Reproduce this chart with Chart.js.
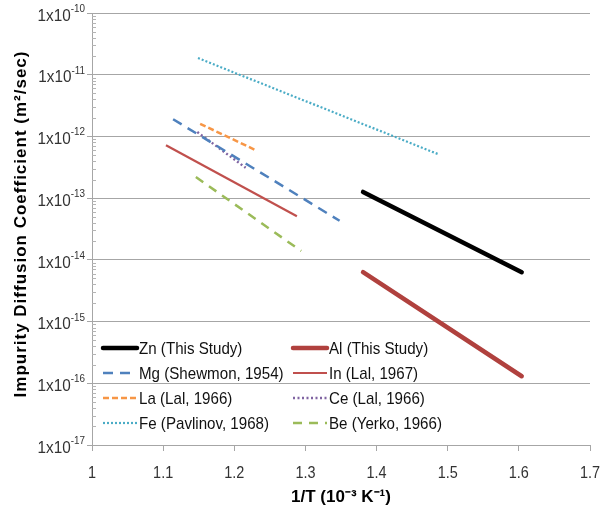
<!DOCTYPE html>
<html>
<head>
<meta charset="utf-8">
<script src="https://cdn.jsdelivr.net/npm/chart.js@4.4.1/dist/chart.umd.min.js"></script>
<style>
  html, body { margin: 0; padding: 0; background: #fff; }
  #wrap { width: 600px; height: 512px; }
</style>
</head>
<body>
<div id="wrap"><canvas id="myChart"></canvas></div>
<script>
const SANS = "'Liberation Sans', Arial, sans-serif";

// axis ticks
const xTicks = [1, 1.1, 1.2, 1.3, 1.4, 1.5, 1.6, 1.7];
const decadeExps = [-17, -16, -15, -14, -13, -12, -11, -10];
const minorSteps = [1, 2, 3, 4, 5, 6, 7, 8, 9];

// series: 1/T (10^-3 K^-1) and D (m^2/s), end points
const znX = [1.381, 1.604];
const znY = [1.26e-13, 6.3e-15];
const alX = [1.381, 1.604];
const alY = [6.3e-15, 1.3e-16];
const mgX = [1.114, 1.348];
const mgY = [1.9e-12, 4.3e-14];
const inX = [1.104, 1.288];
const inY = [7.2e-13, 5.1e-14];
const laX = [1.152, 1.230];
const laY = [1.6e-12, 6.0e-13];
const ceX = [1.148, 1.216];
const ceY = [1.18e-12, 3.1e-13];
const feX = [1.149, 1.486];
const feY = [1.86e-11, 5.2e-13];
const beX = [1.146, 1.294];
const beY = [2.2e-13, 1.39e-14];

function pts(xs, ys) {
    return xs.map((x, i) => ({ x: x, y: ys[i] }));
}

function series(label, xs, ys, color, width, dash, cap) {
    return {
        label: label,
        data: pts(xs, ys),
        showLine: true,
        borderColor: color,
        backgroundColor: color,
        borderWidth: width,
        borderDash: dash,
        borderCapStyle: cap || 'butt',
        pointRadius: 0,
        fill: false
    };
}

// no Calibri here, so squeeze a normal sans a bit
function narrowText(ctx, text, x, y, align, size, sx) {
    ctx.save();
    ctx.translate(x, y);
    ctx.scale(sx, 1);
    ctx.font = size + 'px ' + SANS;
    ctx.textAlign = align;
    ctx.textBaseline = 'middle';
    ctx.fillText(text, 0, 0);
    ctx.restore();
}

// legend drawn inside the plot, 2 columns like the original
const legendPlugin = {
    id: 'insideLegend',
    afterDatasetsDraw(chart) {
        const ctx = chart.ctx;
        const colX = [103, 293];
        ctx.save();
        chart.data.datasets.forEach((ds, i) => {
            const x0 = colX[i % 2];
            const y = 348 + Math.floor(i / 2) * 25;
            ctx.beginPath();
            ctx.setLineDash(ds.borderDash || []);
            ctx.lineCap = ds.borderCapStyle;
            ctx.lineWidth = ds.borderWidth;
            ctx.strokeStyle = ds.borderColor;
            ctx.moveTo(x0, y);
            ctx.lineTo(x0 + 34, y);
            ctx.stroke();
            ctx.setLineDash([]);
            ctx.fillStyle = '#111';
            narrowText(ctx, ds.label, x0 + 36, y + 1, 'left', 17, 0.89);
        });
        ctx.restore();
    }
};

// tick labels, minor ticks and y title drawn by hand
const labelPlugin = {
    id: 'axisLabels',
    afterDraw(chart) {
        const ctx = chart.ctx;
        const ys = chart.scales.y;
        const xs = chart.scales.x;
        const right = ys.right - 7;
        ctx.save();

        // minor ticks sit inside the plot
        ctx.strokeStyle = '#b4b4b4';
        ctx.lineWidth = 1;
        ctx.beginPath();
        ys.ticks.forEach(t => {
            if (t.major) return;
            const py = Math.round(ys.getPixelForValue(t.value)) + 0.5;
            ctx.moveTo(ys.right, py);
            ctx.lineTo(ys.right + 4, py);
        });
        ctx.stroke();

        ctx.fillStyle = '#333';
        decadeExps.forEach(e => {
            const py = ys.getPixelForValue(Math.pow(10, e));
            const sup = String(e);
            ctx.font = '11px ' + SANS;
            const w = ctx.measureText(sup).width * 0.9;
            narrowText(ctx, sup, right, py - 4, 'right', 11, 0.9);
            narrowText(ctx, '1x10', right - w, py + 3, 'right', 17, 0.9);
        });
        xTicks.forEach(v => {
            const px = xs.getPixelForValue(v);
            narrowText(ctx, String(v), px, xs.top + 28, 'center', 17, 0.85);
        });

        ctx.fillStyle = '#000';
        ctx.translate(21, (chart.chartArea.top + chart.chartArea.bottom) / 2 - 5);
        ctx.rotate(-Math.PI / 2);
        ctx.font = 'bold 17px ' + SANS;
        ctx.letterSpacing = '1px';
        ctx.textAlign = 'center';
        ctx.textBaseline = 'middle';
        ctx.fillText('Impurity Diffusion Coefficient (m\u00B2/sec)', 0, 0);
        ctx.restore();
    }
};

const ctx = document.getElementById('myChart');

new Chart(ctx, {
    type: 'scatter',
    plugins: [legendPlugin, labelPlugin],
    data: {
        datasets: [
            series('Zn (This Study)', znX, znY, '#000000', 4.5, [], 'round'),
            series('Al (This Study)', alX, alY, '#b0413e', 4.5, [], 'round'),
            series('Mg (Shewmon, 1954)', mgX, mgY, '#4f81bd', 2.5, [10, 7]),
            series('In (Lal, 1967)', inX, inY, '#c0504d', 2.2, []),
            series('La (Lal, 1966)', laX, laY, '#f79646', 2.5, [6, 3]),
            series('Ce (Lal, 1966)', ceX, ceY, '#8064a2', 2.4, [2, 2.5]),
            series('Fe (Pavlinov, 1968)', feX, feY, '#4bacc6', 2.2, [2, 2]),
            series('Be (Yerko, 1966)', beX, beY, '#9bbb59', 2.5, [9, 7])
        ]
    },
    options: {
        responsive: true,
        maintainAspectRatio: false,
        animation: false,
        layout: {
            padding: { left: 0, right: 10, top: 13, bottom: 0 }
        },
        plugins: {
            legend: { display: false },
            tooltip: { enabled: false }
        },
        scales: {
            x: {
                type: 'linear',
                min: 1,
                max: 1.7,
                afterBuildTicks: axis => {
                    axis.ticks = xTicks.map(v => ({ value: v }));
                },
                afterFit: axis => {
                    axis.height = 67;
                    axis.paddingLeft = 0;
                    axis.paddingRight = 0;
                },
                ticks: {
                    callback: () => ''
                },
                grid: {
                    drawOnChartArea: false,
                    tickLength: 6,
                    color: '#a6a6a6'
                },
                border: { color: '#a6a6a6' },
                title: {
                    display: true,
                    text: '1/T (10\u207B\u00B3 K\u207B\u00B9)',
                    color: '#000',
                    font: { family: SANS, size: 17, weight: 'bold' },
                    padding: { top: 0, bottom: 4 }
                }
            },
            y: {
                type: 'logarithmic',
                min: 1e-17,
                max: 1e-10,
                afterBuildTicks: axis => {
                    const t = [];
                    decadeExps.forEach(e => {
                        minorSteps.forEach(m => {
                            if (e === -10 && m > 1) return;
                            t.push({ value: m * Math.pow(10, e), major: m === 1 });
                        });
                    });
                    axis.ticks = t;
                },
                afterFit: axis => {
                    axis.width = 92;
                    axis.paddingTop = 0;
                    axis.paddingBottom = 0;
                },
                ticks: {
                    autoSkip: false,
                    callback: () => ''
                },
                grid: {
                    tickLength: 5,
                    color: c => (c.tick && c.tick.major) ? '#a6a6a6' : 'rgba(0,0,0,0)',
                    tickColor: c => (c.tick && c.tick.major) ? '#a6a6a6' : 'rgba(0,0,0,0)'
                },
                border: { color: '#a6a6a6' }
            }
        }
    }
});
</script>
</body>
</html>
